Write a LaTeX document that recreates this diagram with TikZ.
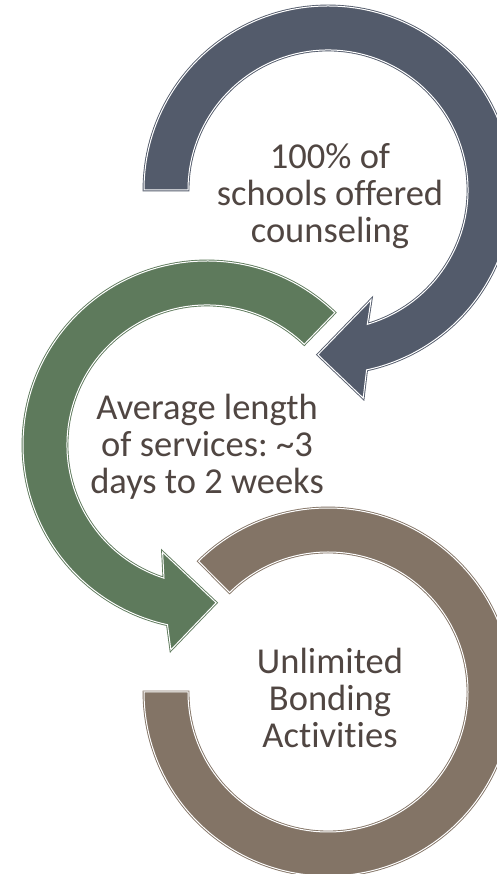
\documentclass[tikz,border=0pt]{standalone}
\usepackage{fontspec}
\setmainfont{Carlito}[Ligatures=NoCommon]
\frenchspacing
\definecolor{slate}{HTML}{535B6B}
\definecolor{moss}{HTML}{5E7A5C}
\definecolor{taupe}{HTML}{837466}
\definecolor{txt}{HTML}{504642}
\begin{document}
\begin{tikzpicture}[x=1pt,y=1pt,
  band/.style={draw=#1, fill=#1, double=white, double distance=1pt, line width=0.9pt},
  label/.style={text=txt, align=center, inner sep=0pt, font=\fontsize{36.5}{37}\selectfont}]
\useasboundingbox (0,0) rectangle (497,874);
\clip (0,0) rectangle (497,874);
\fill[white] (0,0) rectangle (497,874);

% bottom ring, open on its upper left
\begin{scope}[shift={(328,182)}]
  \path[band=taupe] (134.7:184) arc[start angle=134.7, end angle=-180, radius=184]
    -- (180:140) arc[start angle=-180, end angle=134.7, radius=140] -- cycle;
  \node[label] (bond) at (2,-6) {Unlimited\\Bonding\\Activities};
\end{scope}

% middle arrow, counter-clockwise
\begin{scope}[shift={(207,429)}]
  \path[band=moss] (46:184) arc[start angle=46, end angle=257.6, radius=184]
    -- (260:208) -- (273.3:158) -- (247.5:116) -- (252.1:140)
    arc[start angle=252.1, end angle=46, radius=140] -- cycle;
  \node[label] (avg) at (0,-2) {Average length\\of services: \textasciitilde3\\days to 2 weeks};
\end{scope}

% top arrow, clockwise
\begin{scope}[shift={(328,684)}]
  \path[band=slate] (180:184) arc[start angle=180, end angle=-77.9, radius=184]
    -- (-80.4:211) -- (-93.5:165) -- (-68.6:118) -- (-73.7:140)
    arc[start angle=-73.7, end angle=180, radius=140] -- cycle;
  \node[label] (pct) at (2,-6) {100\% of\\schools offered\\counseling};
\end{scope}
\end{tikzpicture}
\end{document}
